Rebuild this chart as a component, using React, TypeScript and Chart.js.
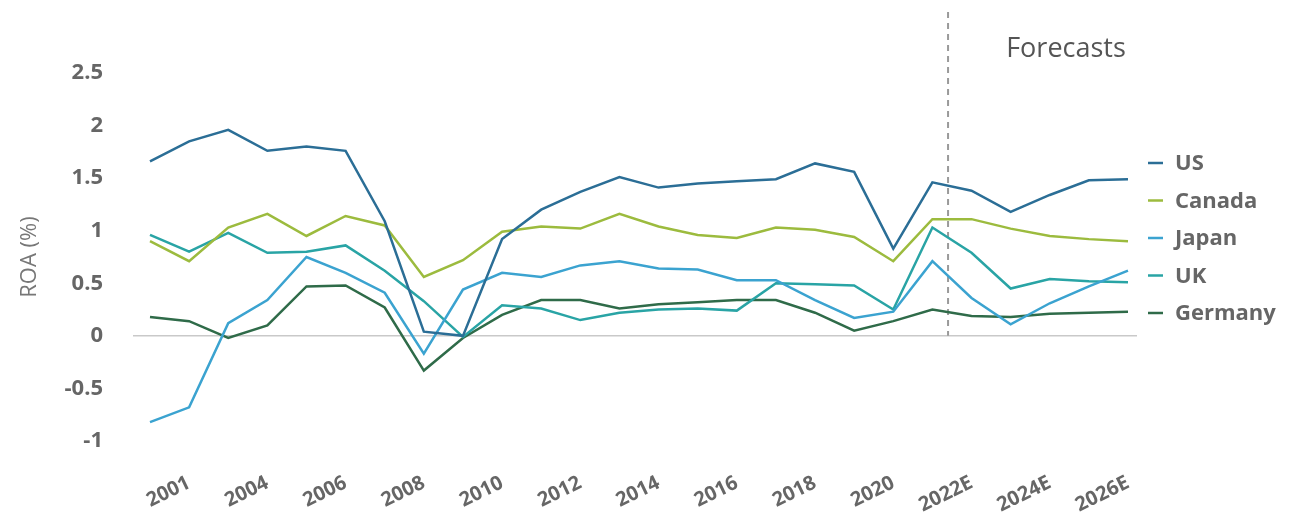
import React, { useEffect, useRef } from "react";
import { Chart, registerables } from "chart.js";

Chart.register(...registerables);

// Category tick labels (as printed on the original axis; blank = unlabeled point)
const xLabels = [
  "", "2001", "", "2004", "", "2006", "", "2008", "", "2010", "", "2012", "",
  "2014", "", "2016", "", "2018", "", "2020", "", "2022E", "", "2024E", "", "2026E",
];

const usValues = [1.66, 1.85, 1.96, 1.76, 1.8, 1.76, 1.09, 0.04, 0.0, 0.92, 1.2, 1.37, 1.51, 1.41, 1.45, 1.47, 1.49, 1.64, 1.56, 0.83, 1.46, 1.38, 1.18, 1.34, 1.48, 1.49];
const canadaValues = [0.9, 0.71, 1.03, 1.16, 0.95, 1.14, 1.05, 0.56, 0.72, 0.99, 1.04, 1.02, 1.16, 1.04, 0.96, 0.93, 1.03, 1.01, 0.94, 0.71, 1.11, 1.11, 1.02, 0.95, 0.92, 0.9];
const japanValues = [-0.82, -0.68, 0.12, 0.34, 0.75, 0.6, 0.41, -0.17, 0.44, 0.6, 0.56, 0.67, 0.71, 0.64, 0.63, 0.53, 0.53, 0.34, 0.17, 0.23, 0.71, 0.36, 0.11, 0.31, 0.47, 0.62];
const ukValues = [0.96, 0.8, 0.98, 0.79, 0.8, 0.86, 0.62, 0.33, -0.01, 0.29, 0.26, 0.15, 0.22, 0.25, 0.26, 0.24, 0.5, 0.49, 0.48, 0.25, 1.03, 0.79, 0.45, 0.54, 0.52, 0.51];
const germanyValues = [0.18, 0.14, -0.02, 0.1, 0.47, 0.48, 0.27, -0.33, -0.02, 0.2, 0.34, 0.34, 0.26, 0.3, 0.32, 0.34, 0.34, 0.22, 0.05, 0.14, 0.25, 0.19, 0.18, 0.21, 0.22, 0.23];

const seriesNames = ["US", "Canada", "Japan", "UK", "Germany"];
const seriesValues = [usValues, canadaValues, japanValues, ukValues, germanyValues];
const seriesColors = ["#2b6e96", "#9cbb3e", "#3ba3d0", "#29a4a5", "#2f6b49"];

const yTicks = [-1, -0.5, 0, 0.5, 1, 1.5, 2, 2.5];
const forecastStart = 20.4; // category position where forecasts begin
const forecastLabel = "Forecasts";
const yTitle = "ROA (%)";

const FONT = "'Open Sans', 'Noto Sans', sans-serif";
const TEXT = "#666666";

const decorPlugin = {
  id: "decor",
  beforeDatasetsDraw(chart: any) {
    const { ctx, scales } = chart;
    const x = scales.x;
    const y = scales.y;
    const y0 = y.getPixelForValue(0);
    ctx.save();
    // zero line
    ctx.strokeStyle = "#c9c9c9";
    ctx.lineWidth = 1.5;
    ctx.beginPath();
    ctx.moveTo(x.getPixelForValue(0) - 17, y0);
    ctx.lineTo(x.getPixelForValue(xLabels.length - 1) + 9, y0);
    ctx.stroke();
    // forecast dashed divider
    const a = x.getPixelForValue(Math.floor(forecastStart));
    const b = x.getPixelForValue(Math.floor(forecastStart) + 1);
    const fx = a + (b - a) * (forecastStart - Math.floor(forecastStart));
    ctx.strokeStyle = "#9a9a9a";
    ctx.lineWidth = 2;
    ctx.setLineDash([6, 5]);
    ctx.beginPath();
    ctx.moveTo(fx, 12);
    ctx.lineTo(fx, y0);
    ctx.stroke();
    ctx.setLineDash([]);
    ctx.restore();
  },
  afterDraw(chart: any) {
    const { ctx, chartArea } = chart;
    ctx.save();
    // Forecasts label
    ctx.fillStyle = "#555555";
    ctx.font = `400 27px ${FONT}`;
    ctx.textAlign = "center";
    ctx.textBaseline = "middle";
    ctx.fillText(forecastLabel, 1066, 49);
    // legend
    const lx = chartArea.right + 20;
    chart.data.datasets.forEach((ds: any, i: number) => {
      const ly = 163 + i * 37.5;
      ctx.strokeStyle = ds.borderColor;
      ctx.lineWidth = 2.5;
      ctx.beginPath();
      ctx.moveTo(lx, ly);
      ctx.lineTo(lx + 15, ly);
      ctx.stroke();
      ctx.fillStyle = TEXT;
      ctx.font = `700 22px ${FONT}`;
      ctx.textAlign = "left";
      ctx.textBaseline = "middle";
      ctx.fillText(ds.label, lx + 27, ly + 1);
    });
    ctx.restore();
  },
};

export default function App() {
  const ref = useRef<HTMLCanvasElement | null>(null);

  useEffect(() => {
    if (!ref.current) return;
    const chart = new Chart(ref.current, {
      type: "line",
      data: {
        labels: xLabels,
        datasets: seriesNames.map((name, i) => ({
          label: name,
          data: seriesValues[i],
          borderColor: seriesColors[i],
          backgroundColor: seriesColors[i],
          borderWidth: 2.5,
          pointRadius: 0,
          tension: 0,
          fill: false,
        })),
      },
      options: {
        animation: false,
        responsive: false,
        maintainAspectRatio: false,
        layout: { padding: { top: 73, right: 174, bottom: 0, left: 0 } },
        plugins: {
          legend: { display: false },
          tooltip: { enabled: false },
        },
        scales: {
          x: {
            type: "category",
            offset: false,
            grid: { display: false, drawTicks: false },
            border: { display: false },
            afterFit: (s: any) => {
              s.height = 71;
            },
            ticks: {
              autoSkip: false,
              maxRotation: 26,
              minRotation: 26,
              padding: 30,
              color: TEXT,
              font: { family: FONT, size: 20, weight: "bold" },
            },
          },
          y: {
            min: -1,
            max: 2.5,
            afterBuildTicks: (s: any) => {
              s.ticks = yTicks.map((v) => ({ value: v }));
            },
            afterFit: (s: any) => {
              s.width = 150;
            },
            grid: { display: false, drawTicks: false },
            border: { display: false },
            ticks: {
              padding: 47,
              color: TEXT,
              font: { family: FONT, size: 22, weight: "bold" },
              callback: (v: any) => String(v),
            },
            title: {
              display: true,
              text: yTitle,
              color: "#777777",
              font: { family: FONT, size: 22, weight: "normal" },
              padding: { top: 17, bottom: 0 },
            },
          },
        },
      },
      plugins: [decorPlugin],
    });
    return () => chart.destroy();
  }, []);

  return (
    <div style={{ position: "absolute", left: 0, top: 0, width: 1302, height: 512, background: "#fff" }}>
      <canvas ref={ref} width={1302} height={512} style={{ display: "block" }} />
    </div>
  );
}
